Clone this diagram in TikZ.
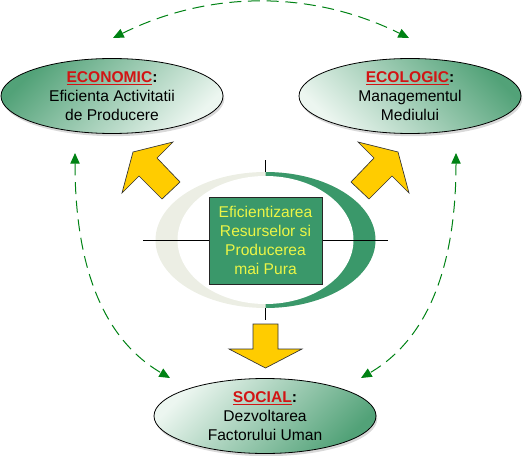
\documentclass[tikz,border=0pt]{standalone}
\usepackage{fontspec}
\setmainfont{Liberation Sans}
\usetikzlibrary{shapes.geometric,arrows.meta,shadows}
\definecolor{ringgreen}{RGB}{58,152,106}
\definecolor{ringlight}{RGB}{236,238,228}
\definecolor{elldark}{RGB}{82,162,120}
\definecolor{elllight}{RGB}{236,246,240}
\definecolor{boxtext}{RGB}{235,245,70}
\definecolor{titlered}{RGB}{210,20,20}
\definecolor{arrowyellow}{RGB}{255,204,0}
\definecolor{dashgreen}{RGB}{0,130,20}
\tikzset{
 bubble/.style={ellipse, draw=black, line width=0.6pt, minimum width=166.5pt, minimum height=56.25pt, inner sep=0pt,
   drop shadow={opacity=0.3, shadow xshift=1pt, shadow yshift=-2pt}},
 bubbletext/.style={align=center, font=\fontsize{11.7}{14.3}\selectfont, text=black, inner sep=0pt},
 tipmark/.tip={Triangle[length=8pt,width=7pt]},
 link/.style={dashgreen, line width=0.75pt, dash pattern=on 9pt off 5pt, tipmark-tipmark},
 bigarrow/.style={fill=arrowyellow, draw=black!80, line width=0.5pt, line join=miter},
 corebox/.style={draw=black!85, line width=0.6pt, fill=ringgreen, minimum width=84.75pt, minimum height=65.25pt,
   inner sep=0pt, align=center, text=boxtext, font=\fontsize{11.7}{14.3}\selectfont},
}
\begin{document}
\begin{tikzpicture}[x=0.75pt,y=-0.75pt]
\useasboundingbox (0,0) rectangle (531,456);
% central ring
\fill[ringlight] (265.5,240) ellipse [x radius=110, y radius=68];
\begin{scope}
 \clip (265.5,150) rectangle (400,330);
 \fill[ringgreen] (265.5,240) ellipse [x radius=110, y radius=68];
\end{scope}
\fill[white] (265.5,240) ellipse [x radius=88, y radius=64];
\draw[line width=0.6pt] (265.5,160) -- (265.5,172);
\draw[line width=0.6pt] (265.5,308) -- (265.5,320);
\draw[line width=0.6pt] (143,240) -- (388,240);
\node[corebox] (core) at (265.5,240.5) {Eficientizarea\\Resurselor si\\Producerea\\mai Pura};
% yellow arrows
\draw[bigarrow] (133,152) -- (173,142) -- (157,158) -- (180,182) -- (162,199) -- (139,176) -- (122,193) -- cycle;
\draw[bigarrow] (398,152) -- (358,142) -- (374,158) -- (351,182) -- (369,199) -- (392,176) -- (409,193) -- cycle;
\draw[bigarrow] (253,324) -- (278,324) -- (278,349) -- (302,349) -- (265.5,368) -- (229,349) -- (253,349) -- cycle;
% ellipses
\node[bubble, top color=elldark, bottom color=elllight, shading angle=45] (eco) at (112,96) {};
\node[bubble, top color=elldark, bottom color=elllight, shading angle=-45] (ecol) at (410,96) {};
\node[bubble, top color=elllight, bottom color=elldark, shading angle=45] (soc) at (265,416) {};
\node[bubbletext] (eco-t) at (eco) {\textcolor{titlered}{\textbf{\underline{ECONOMIC}}}\textbf{:}\\Eficienta Activitatii\\de Producere};
\node[bubbletext] (ecol-t) at (ecol) {\textcolor{titlered}{\textbf{\underline{ECOLOGIC}}}\textbf{:}\\Managementul\\Mediului};
\node[bubbletext] (soc-t) at (soc) {\textcolor{titlered}{\textbf{\underline{SOCIAL}}}\textbf{:}\\Dezvoltarea\\Factorului Uman};
% dashed links
\coordinate (t1) at (113,38);
\coordinate (t2) at (409,38);
\coordinate (l1) at (75,153);
\coordinate (l2) at (170,378);
\coordinate (r1) at (456,153);
\coordinate (r2) at (361,378);
\draw[link] (t1) .. controls (210,-10) and (312,-10) .. (t2);
\draw[link] (l1) .. controls (75,270) and (105,340) .. (l2);
\draw[link] (r1) .. controls (456,270) and (426,340) .. (r2);
\end{tikzpicture}
\end{document}
